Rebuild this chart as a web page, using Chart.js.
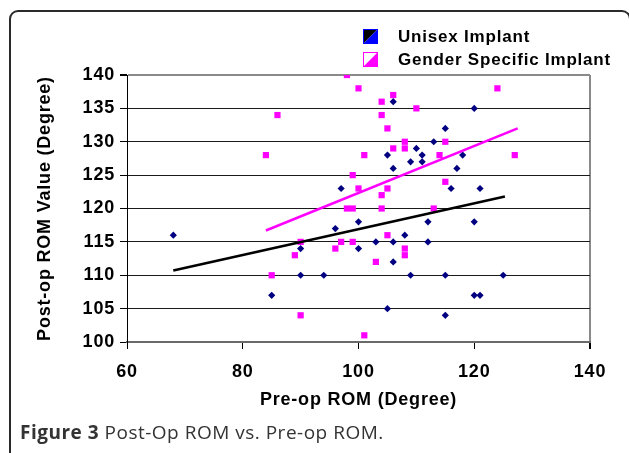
<!DOCTYPE html>
<html>
<head>
<meta charset="utf-8">
<title>Post-Op ROM vs. Pre-op ROM</title>
<script src="https://cdn.jsdelivr.net/npm/chart.js@4.4.0/dist/chart.umd.min.js"></script>
<style>
    html, body { margin: 0; padding: 0; background: #fff; }
    body { width: 629px; height: 453px; position: relative; overflow: hidden; }
    #frame {
        position: absolute; left: 9px; top: 10px; width: 622px; height: 520px;
        box-sizing: border-box; border: 2px solid #2b2b2b; border-radius: 9px;
    }
    #wrap { position: absolute; left: 0; top: 0; width: 629px; height: 453px; }
    #caption {
        position: absolute; left: 20px; top: 419px;
        font-family: "Open Sans", sans-serif; font-size: 19px; color: #333;
        white-space: nowrap; letter-spacing: 0.5px;
    }
    #caption b { font-weight: 700; }
</style>
</head>
<body>
<div id="frame"></div>
<div id="wrap"><canvas id="romChart"></canvas></div>
<div id="caption"><b>Figure 3</b> Post-Op ROM vs. Pre-op ROM.</div>
<script>
// Unisex implant: pre-op / post-op ROM (degree)
const unisexPre  = [68, 85, 90, 90, 94, 96, 97, 100, 100, 103, 105, 105, 106, 106, 106, 106, 108, 109, 109, 110,
                    111, 111, 112, 112, 113, 115, 115, 115, 116, 117, 118, 120, 120, 120, 121, 121, 125];
const unisexPost = [116, 107, 110, 114, 110, 117, 123, 114, 118, 115, 105, 128, 112, 115, 126, 136, 116, 110, 127, 129,
                    127, 128, 115, 118, 130, 104, 110, 132, 123, 126, 128, 107, 118, 135, 107, 123, 110];

// Gender specific implant
const genderPre  = [84, 85, 86, 89, 90, 90, 96, 97, 98, 98, 99, 99, 99, 100, 100, 101, 101, 103, 104, 104,
                    104, 104, 105, 105, 105, 106, 106, 108, 108, 108, 108, 110, 113, 114, 115, 115, 124, 127];
const genderPost = [128, 110, 134, 113, 104, 115, 114, 115, 120, 140, 115, 120, 125, 123, 138, 101, 128, 112, 120, 122,
                    134, 136, 116, 123, 132, 129, 137, 113, 114, 129, 130, 135, 120, 128, 124, 130, 138, 128];

// Trend line end points
const unisexTrendX = [68, 125.3];
const unisexTrendY = [110.7, 121.8];
const genderTrendX = [84, 127.5];
const genderTrendY = [116.7, 132];

const xTicks = [60, 80, 100, 120, 140];
const yTicks = [100, 105, 110, 115, 120, 125, 130, 135, 140];

const FONT = 'Liberation Sans, Arial, sans-serif';

function toPoints(xs, ys) {
    return xs.map((x, i) => ({ x: x, y: ys[i] }));
}

// Slightly wider text like the original picture
const spacingPlugin = {
    id: 'wideText',
    beforeUpdate(chart) { chart.ctx.letterSpacing = '0.8px'; },
    beforeDraw(chart) { chart.ctx.letterSpacing = '0.8px'; }
};

// Two-row legend in the top right corner
const legendPlugin = {
    id: 'cornerLegend',
    afterDraw(chart) {
        const ctx = chart.ctx;
        const rows = [
            { ds: chart.data.datasets[0], upper: '#000000', lower: '#0000ff', y: 29 },
            { ds: chart.data.datasets[1], upper: '#ffffff', lower: '#ff00ff', y: 52 }
        ];
        ctx.save();
        rows.forEach(r => {
            const x = 363, s = 15;
            ctx.fillStyle = r.upper;
            ctx.beginPath();
            ctx.moveTo(x, r.y); ctx.lineTo(x + s, r.y); ctx.lineTo(x, r.y + s); ctx.closePath();
            ctx.fill();
            ctx.fillStyle = r.lower;
            ctx.beginPath();
            ctx.moveTo(x + s, r.y); ctx.lineTo(x + s, r.y + s); ctx.lineTo(x, r.y + s); ctx.closePath();
            ctx.fill();
            ctx.strokeStyle = r.lower;
            ctx.lineWidth = 1;
            ctx.strokeRect(x + 0.5, r.y + 0.5, s - 1, s - 1);

            ctx.fillStyle = '#000';
            ctx.font = 'bold 17px ' + FONT;
            ctx.textBaseline = 'middle';
            ctx.textAlign = 'left';
            ctx.fillText(r.ds.label, 398, r.y + 8);
        });
        ctx.restore();
    }
};

const ctx = document.getElementById('romChart').getContext('2d');

new Chart(ctx, {
    type: 'scatter',
    data: {
        datasets: [
            {
                label: 'Unisex Implant',
                data: toPoints(unisexPre, unisexPost),
                backgroundColor: '#000080',
                borderColor: '#000080',
                pointStyle: 'rectRot',
                pointRadius: 3.6,
                pointBorderWidth: 0,
                order: 2
            },
            {
                label: 'Gender Specific Implant',
                data: toPoints(genderPre, genderPost),
                backgroundColor: '#ff00ff',
                borderColor: '#ff00ff',
                pointStyle: 'rect',
                pointRadius: 4.4,
                pointBorderWidth: 0,
                order: 1
            },
            {
                label: 'Unisex trend',
                data: toPoints(unisexTrendX, unisexTrendY),
                showLine: true,
                borderColor: '#000000',
                borderWidth: 2.5,
                pointRadius: 0,
                order: 0
            },
            {
                label: 'Gender trend',
                data: toPoints(genderTrendX, genderTrendY),
                showLine: true,
                borderColor: '#ff00ff',
                borderWidth: 2.5,
                pointRadius: 0,
                order: 0
            }
        ]
    },
    options: {
        responsive: true,
        maintainAspectRatio: false,
        animation: false,
        layout: { padding: { left: 0, right: 39, top: 75, bottom: 0 } },
        plugins: {
            legend: { display: false },
            tooltip: { enabled: false }
        },
        scales: {
            x: {
                type: 'linear',
                min: xTicks[0],
                max: xTicks[xTicks.length - 1],
                afterBuildTicks: scale => { scale.ticks = xTicks.map(v => ({ value: v })); },
                afterFit: scale => { scale.height = 111; },
                ticks: {
                    color: '#000',
                    padding: 12,
                    font: { family: FONT, size: 18, weight: 'bold' }
                },
                grid: {
                    color: c => (c.tick && c.tick.value === 140) ? '#8a8a8a' : 'rgba(0,0,0,0)',
                    lineWidth: c => (c.tick && c.tick.value === 140) ? 2 : 1,
                    tickColor: '#000',
                    tickLength: 7
                },
                border: { color: '#6a6a6a', width: 2 },
                title: {
                    display: true,
                    text: 'Pre-op ROM (Degree)',
                    color: '#000',
                    font: { family: FONT, size: 18, weight: 'bold' },
                    padding: { top: 0, bottom: 42 }
                }
            },
            y: {
                min: yTicks[0],
                max: yTicks[yTicks.length - 1],
                afterBuildTicks: scale => { scale.ticks = yTicks.map(v => ({ value: v })); },
                afterFit: scale => { scale.width = 127; },
                ticks: {
                    color: '#000',
                    padding: 5,
                    font: { family: FONT, size: 18, weight: 'bold' }
                },
                grid: {
                    color: c => {
                        if (!c.tick) return '#1a1a1a';
                        if (c.tick.value === 140) return '#8a8a8a';
                        if (c.tick.value === 100) return 'rgba(0,0,0,0)';
                        return '#1a1a1a';
                    },
                    lineWidth: c => (c.tick && c.tick.value === 140) ? 2 : 1,
                    tickColor: '#000',
                    tickLength: 7
                },
                border: { color: '#000', width: 1 },
                title: {
                    display: true,
                    text: 'Post-op ROM Value (Degree)',
                    color: '#000',
                    font: { family: FONT, size: 18, weight: 'bold' },
                    padding: { top: 34, bottom: 0 }
                }
            }
        }
    },
    plugins: [spacingPlugin, legendPlugin]
});
</script>
</body>
</html>
